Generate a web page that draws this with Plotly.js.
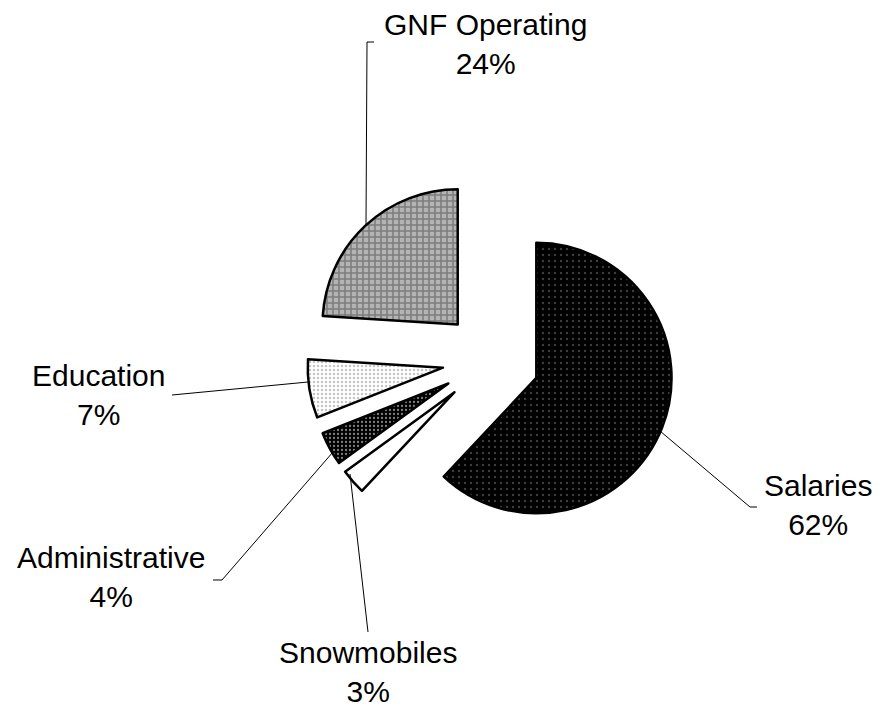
<!DOCTYPE html>
<html>
<head>
<meta charset="utf-8">
<script src="https://cdn.plot.ly/plotly-3.0.1.min.js"></script>
<style>html,body{margin:0;padding:0;background:#fff;}#chart{width:880px;height:708px;}</style>
</head>
<body>
<div id="chart"></div>
<script>
var labels = ["Salaries", "Snowmobiles", "Administrative", "Education", "GNF Operating"];
var values = [62, 3, 4, 7, 24];

var W = 880, H = 708;
function px(x) { return x / W; }
function py(y) { return 1 - y / H; }

// label block centers (pixels) and leader line paths (pixels)
var labelPos = [[818, 505], [368, 672], [111, 577], [98, 395], [485, 44]];
var leaders = [
  [[757, 507], [750, 507], [660, 431]],
  [[368, 632], [350, 474]],
  [[213, 580], [222, 580], [333, 452]],
  [[172, 395], [308, 382]],
  [[374, 42], [367, 42], [366, 224]]
];

var patterns = [
  {shape: ".", bgcolor: "#000000", fgcolor: "#7a7a7a", size: 6, solidity: 0.12},
  {shape: "", bgcolor: "#ffffff", fgcolor: "#ffffff"},
  {shape: ".", bgcolor: "#000000", fgcolor: "#ffffff", size: 4, solidity: 0.25},
  {shape: ".", bgcolor: "#ffffff", fgcolor: "#8a8a8a", size: 4, solidity: 0.3},
  {shape: "+", bgcolor: "#b4b4b4", fgcolor: "#444444", size: 6, solidity: 0.45}
];
var baseColors = ["#000000", "#ffffff", "#222222", "#e0e0e0", "#888888"];

var trace = {
  type: "pie",
  labels: labels,
  values: values,
  sort: false,
  direction: "clockwise",
  rotation: 0,
  pull: values.map(function () { return 0.36; }),
  textinfo: "none",
  hoverinfo: "label+percent",
  showlegend: false,
  domain: {x: [0.349, 0.767], y: [0.2316, 0.7514]},
  marker: {
    colors: baseColors,
    line: {color: "#000000", width: 2.5},
    pattern: {
      shape: patterns.map(function (p) { return p.shape; }),
      bgcolor: patterns.map(function (p) { return p.bgcolor; }),
      fgcolor: patterns.map(function (p) { return p.fgcolor; }),
      size: patterns.map(function (p) { return p.size || 6; }),
      solidity: patterns.map(function (p) { return p.solidity || 0.3; }),
      fillmode: "overlay"
    }
  }
};

var annotations = labels.map(function (l, i) {
  return {
    xref: "paper", yref: "paper",
    x: px(labelPos[i][0]), y: py(labelPos[i][1]),
    xanchor: "center", yanchor: "middle",
    text: l + "<br>" + values[i] + "%",
    showarrow: false,
    font: {family: "Liberation Sans, Arial, sans-serif", size: 30, color: "#000"}
  };
});

var shapes = leaders.map(function (pts) {
  var d = pts.map(function (p, j) { return (j === 0 ? "M" : "L") + px(p[0]) + "," + py(p[1]); }).join(" ");
  return {type: "path", xref: "paper", yref: "paper", path: d, line: {color: "#000", width: 1}};
});

var layout = {
  width: W, height: H,
  margin: {l: 0, r: 0, t: 0, b: 0},
  paper_bgcolor: "#ffffff",
  plot_bgcolor: "#ffffff",
  annotations: annotations,
  shapes: shapes,
  font: {family: "Liberation Sans, Arial, sans-serif"}
};

Plotly.newPlot("chart", [trace], layout, {displayModeBar: false, staticPlot: true});
</script>
</body>
</html>
